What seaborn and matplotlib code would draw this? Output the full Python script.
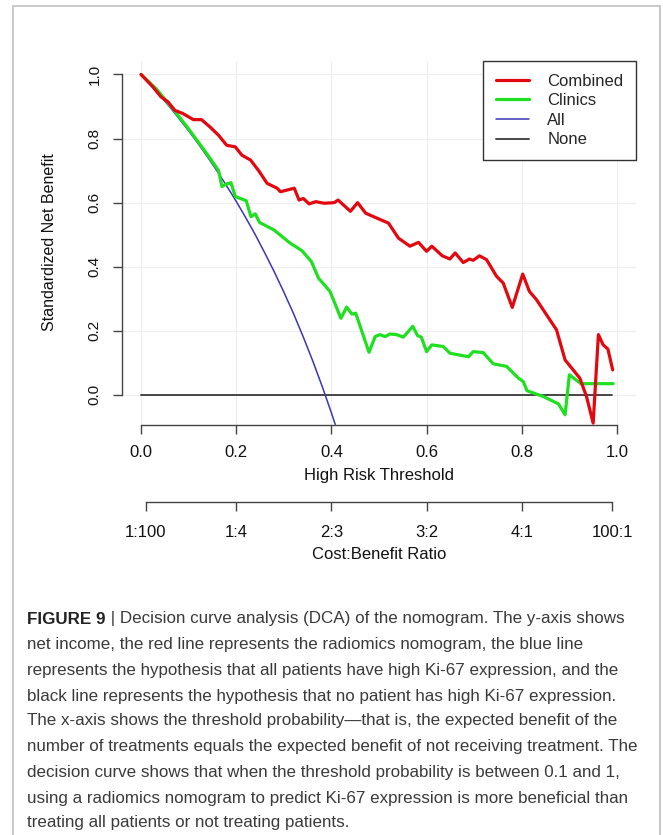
import numpy as np
import pandas as pd
import matplotlib
matplotlib.use("Agg")
import matplotlib.pyplot as plt
from matplotlib.patches import Rectangle
import seaborn as sns

# ---------------- data ----------------
combined_t = [0.000, 0.025, 0.042, 0.057, 0.071, 0.088, 0.110, 0.127, 0.145, 0.163,
              0.180, 0.198, 0.212, 0.230, 0.247, 0.265, 0.286, 0.293, 0.322, 0.332,
              0.341, 0.353, 0.367, 0.385, 0.406, 0.414, 0.440, 0.455, 0.472, 0.495,
              0.520, 0.541, 0.565, 0.583, 0.600, 0.611, 0.633, 0.649, 0.660, 0.677,
              0.690, 0.698, 0.711, 0.726, 0.747, 0.761, 0.780, 0.802, 0.816, 0.831,
              0.852, 0.873, 0.891, 0.908, 0.922, 0.936, 0.950, 0.961, 0.971, 0.981,
              0.991]
combined_nb = [1.000, 0.961, 0.930, 0.914, 0.888, 0.878, 0.859, 0.859, 0.836, 0.810,
               0.779, 0.774, 0.748, 0.733, 0.700, 0.660, 0.645, 0.634, 0.645, 0.608,
               0.613, 0.596, 0.603, 0.598, 0.600, 0.608, 0.573, 0.600, 0.567, 0.552,
               0.536, 0.489, 0.464, 0.476, 0.448, 0.464, 0.434, 0.424, 0.443, 0.413,
               0.424, 0.420, 0.434, 0.422, 0.370, 0.349, 0.273, 0.377, 0.323, 0.297,
               0.250, 0.203, 0.109, 0.078, 0.052, -0.005, -0.088, 0.188, 0.156, 0.143,
               0.078]

clinics_t = [0.000, 0.032, 0.067, 0.102, 0.138, 0.163, 0.170, 0.179, 0.189, 0.198,
             0.221, 0.231, 0.240, 0.249, 0.279, 0.313, 0.338, 0.358, 0.373, 0.397,
             0.420, 0.432, 0.443, 0.451, 0.479, 0.492, 0.502, 0.513, 0.523, 0.537,
             0.551, 0.571, 0.581, 0.589, 0.600, 0.611, 0.635, 0.649, 0.688, 0.698,
             0.719, 0.740, 0.768, 0.793, 0.803, 0.811, 0.845, 0.877, 0.891, 0.900,
             0.912, 0.924, 0.992]
clinics_nb = [1.000, 0.955, 0.893, 0.826, 0.753, 0.700, 0.650, 0.658, 0.662, 0.619,
              0.606, 0.556, 0.565, 0.538, 0.515, 0.474, 0.450, 0.416, 0.364, 0.323,
              0.239, 0.274, 0.252, 0.255, 0.133, 0.182, 0.188, 0.182, 0.190, 0.188,
              0.180, 0.214, 0.185, 0.180, 0.135, 0.156, 0.151, 0.130, 0.119, 0.135,
              0.132, 0.097, 0.089, 0.052, 0.042, 0.013, -0.005, -0.028, -0.062, 0.063,
              0.049, 0.035, 0.035]

all_t = [0.00, 0.02, 0.04, 0.06, 0.08, 0.10, 0.12, 0.14, 0.16, 0.18, 0.20, 0.22,
         0.24, 0.26, 0.28, 0.30, 0.32, 0.34, 0.36, 0.38, 0.40, 0.408]
all_nb = [1.000, 0.968, 0.934, 0.899, 0.862, 0.824, 0.784, 0.742, 0.698, 0.652,
          0.604, 0.553, 0.500, 0.443, 0.384, 0.321, 0.255, 0.184, 0.109, 0.029,
          -0.056, -0.092]

none_t = [0.0, 0.99]
none_nb = [0.0, 0.0]

x_ticks = [0.0, 0.2, 0.4, 0.6, 0.8, 1.0]
x_tick_labels = ["0.0", "0.2", "0.4", "0.6", "0.8", "1.0"]
y_ticks = [0.0, 0.2, 0.4, 0.6, 0.8, 1.0]
y_tick_labels = ["0.0", "0.2", "0.4", "0.6", "0.8", "1.0"]
cb_ticks = [0.01, 0.2, 0.4, 0.6, 0.8, 0.99]
cb_labels = ["1:100", "1:4", "2:3", "3:2", "4:1", "100:1"]

series_names = ["Combined", "Clinics", "All", "None"]

caption_rest = [
    "net income, the red line represents the radiomics nomogram, the blue line",
    "represents the hypothesis that all patients have high Ki-67 expression, and the",
    "black line represents the hypothesis that no patient has high Ki-67 expression.",
    "The x-axis shows the threshold probability\u2014that is, the expected benefit of the",
    "number of treatments equals the expected benefit of not receiving treatment. The",
    "decision curve shows that when the threshold probability is between 0.1 and 1,",
    "using a radiomics nomogram to predict Ki-67 expression is more beneficial than",
    "treating all patients or not treating patients.",
]
caption_head_bold = "FIGURE 9"
caption_head_rest = " | Decision curve analysis (DCA) of the nomogram. The y-axis shows"

# ---------------- style ----------------
sns.set_style("white")
plt.rcParams["font.family"] = ["Liberation Sans", "DejaVu Sans"]

W, H = 663, 835
fig = plt.figure(figsize=(W / 100, H / 100), dpi=100)


def fx(px):
    return px / W


def fy(py):
    return 1 - py / H


# outer frame (open at bottom)
fig.add_artist(Rectangle((fx(13), fy(900)), fx(660) - fx(13), fy(6) - fy(900),
                         transform=fig.transFigure, fill=False, ec="#c4c4c4",
                         lw=1.3, clip_on=False))

ax = fig.add_axes([fx(122), fy(425), fx(636) - fx(122), fy(61) - fy(425)])
ax.set_xlim(-0.04, 1.04)
ax.set_ylim(-0.094, 1.042)

df_c = pd.DataFrame({"t": combined_t, "nb": combined_nb})
df_k = pd.DataFrame({"t": clinics_t, "nb": clinics_nb})
df_a = pd.DataFrame({"t": all_t, "nb": all_nb})
df_n = pd.DataFrame({"t": none_t, "nb": none_nb})

sns.lineplot(data=df_n, x="t", y="nb", ax=ax, color="#383838", lw=1.3,
             sort=False, estimator=None, label=series_names[3], zorder=2)
sns.lineplot(data=df_a, x="t", y="nb", ax=ax, color="#3b36b5", lw=1.1,
             sort=False, estimator=None, label=series_names[2], zorder=3)
sns.lineplot(data=df_k, x="t", y="nb", ax=ax, color="#1fe01f", lw=2.3,
             sort=False, estimator=None, label=series_names[1], zorder=4)
sns.lineplot(data=df_c, x="t", y="nb", ax=ax, color="#e3070f", lw=2.3,
             sort=False, estimator=None, label=series_names[0], zorder=5)

ax.set_xticks(x_ticks)
ax.set_xticklabels(x_tick_labels)
ax.set_yticks(y_ticks)
ax.set_yticklabels(y_tick_labels, rotation=90, va="center")
ax.grid(True, color="#eeeeee", lw=0.8)
ax.set_axisbelow(True)

for s in ["top", "right"]:
    ax.spines[s].set_visible(False)
ax.spines["left"].set_bounds(0, 1)
ax.spines["bottom"].set_bounds(0, 1)
for s in ["left", "bottom"]:
    ax.spines[s].set_color("#444444")
    ax.spines[s].set_linewidth(1.0)

ax.tick_params(axis="x", bottom=True, direction="out", length=6.5, width=1.0,
               color="#444444", labelsize=12, pad=8, labelcolor="#111111")
ax.tick_params(axis="y", left=True, direction="out", length=6.5, width=1.0,
               color="#444444", labelsize=11, pad=8, labelcolor="#111111")

ax.set_xlabel("High Risk Threshold", fontsize=12, color="#111111")
ax.xaxis.set_label_coords(0.5, -0.117)
ax.set_ylabel("Standardized Net Benefit", fontsize=11.5, color="#111111")
ax.yaxis.set_label_coords(-0.127, 0.503)

handles, labels = ax.get_legend_handles_labels()
order = [labels.index(n) for n in series_names]
leg = ax.legend([handles[i] for i in order], [labels[i] for i in order],
                loc="upper right", bbox_to_anchor=(1.0, 1.0), borderaxespad=0,
                frameon=True, fancybox=False, edgecolor="#333333", framealpha=1,
                fontsize=12, handlelength=2.0, handletextpad=1.1,
                labelspacing=0.28, borderpad=0.75)
leg.get_frame().set_linewidth(1.0)

# second axis: cost:benefit ratio
ax2 = fig.add_axes([fx(122), fy(502), fx(636) - fx(122), 0.0001])
ax2.set_xlim(-0.04, 1.04)
ax2.patch.set_visible(False)
ax2.set_yticks([])
for s in ["top", "right", "left"]:
    ax2.spines[s].set_visible(False)
ax2.spines["bottom"].set_bounds(cb_ticks[0], cb_ticks[-1])
ax2.spines["bottom"].set_color("#444444")
ax2.spines["bottom"].set_linewidth(1.0)
ax2.set_xticks(cb_ticks)
ax2.set_xticklabels(cb_labels)
ax2.tick_params(axis="x", bottom=True, direction="out", length=6.5, width=1.0,
                color="#444444", labelsize=12, pad=10, labelcolor="#111111")
ax2.set_xlabel("Cost:Benefit Ratio", fontsize=12, color="#111111", labelpad=5)

# caption
renderer = fig.canvas.get_renderer()
probe = fig.text(0, 0, caption_rest[4], fontsize=12)
w = probe.get_window_extent(renderer).width
probe.remove()
cap_size = 12 * 612 / w

line_y = [619, 645, 670, 696, 721, 747, 772, 798, 823]
t0 = fig.text(fx(27), fy(line_y[0]), caption_head_bold, fontsize=cap_size,
              weight="bold", color="#222222", va="center", ha="left")
bb = t0.get_window_extent(renderer)
fig.text(bb.x1 / W, fy(line_y[0]), caption_head_rest, fontsize=cap_size,
         color="#3a3a3a", va="center", ha="left")
for yy, txt in zip(line_y[1:], caption_rest):
    fig.text(fx(27), fy(yy), txt, fontsize=cap_size, color="#3a3a3a",
             va="center", ha="left")

fig.savefig("out.png", dpi=100)
